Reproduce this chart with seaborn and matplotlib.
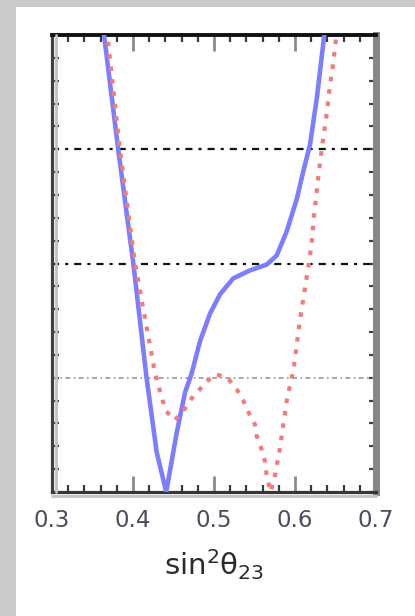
import matplotlib
matplotlib.use("Agg")
import matplotlib.pyplot as plt
from matplotlib.patches import Rectangle
from matplotlib.lines import Line2D
from matplotlib.ticker import MultipleLocator, NullFormatter
from matplotlib.transforms import offset_copy
import seaborn as sns
import pandas as pd

# n-sigma profile versus sin^2(theta_23): normal hierarchy (solid) and inverted (dotted)
nh_s23 = [0.3634, 0.3819, 0.4004, 0.4169, 0.4244, 0.4292, 0.4410, 0.4540, 0.4642,
          0.4725, 0.4827, 0.4950, 0.5074, 0.5238, 0.5444, 0.5650, 0.5774,
          0.5897, 0.6020, 0.6100, 0.6185, 0.6270, 0.6370]
nh_sigma = [4.05, 2.99, 2.00, 0.99, 0.60, 0.35, 0.00, 0.52, 0.87,
            1.04, 1.32, 1.56, 1.73, 1.87, 1.94, 1.99, 2.07,
            2.28, 2.56, 2.80, 3.04, 3.45, 4.05]

ih_s23 = [0.3675, 0.3840, 0.4025, 0.4272, 0.4354, 0.4403, 0.4519, 0.4642,
          0.4725, 0.4807, 0.4910, 0.5033, 0.5177, 0.5280, 0.5362, 0.5424,
          0.5506, 0.5527, 0.5589, 0.5630, 0.5650, 0.5700, 0.5753, 0.5815,
          0.5856, 0.5905, 0.5980, 0.6020, 0.6062, 0.6111, 0.6164, 0.6206,
          0.6235, 0.6288, 0.6330, 0.6391, 0.6432, 0.6473, 0.6520]
ih_sigma = [4.05, 2.99, 2.00, 1.04, 0.83, 0.71, 0.63, 0.73,
            0.82, 0.885, 0.97, 1.03, 0.99, 0.90, 0.80, 0.70,
            0.59, 0.49, 0.37, 0.265, 0.145, 0.00, 0.145, 0.386,
            0.59, 0.83, 1.06, 1.28, 1.51, 1.73, 1.97, 2.18,
            2.42, 2.76, 3.00, 3.31, 3.56, 3.76, 4.05]

sigma_levels = [1, 2, 3]
sigma_colors = ["#9a9a9a", "#111111", "#111111"]
sigma_widths = [1.2, 1.6, 1.6]

x_ticks = [0.3, 0.4, 0.5, 0.6, 0.7]
x_ticklabels = ["0.3", "0.4", "0.5", "0.6", "0.7"]

sns.set_style("ticks")
plt.rcParams["font.family"] = ["DejaVu Sans"]
plt.rcParams["mathtext.fontset"] = "dejavusans"

W, H = 415, 616
fig = plt.figure(figsize=(W / 100, H / 100), dpi=100)
fig.patch.set_facecolor("#cbcbcb")
fig.add_artist(Rectangle((16 / W, 0), 1, 1 - 7 / H, transform=fig.transFigure,
                         facecolor="white", edgecolor="none", zorder=0))

ax = fig.add_axes([52 / W, 124 / H, 324 / W, 457 / H])
ax.set_facecolor("white")

for lvl, col, lw in zip(sigma_levels, sigma_colors, sigma_widths):
    pattern = (0, (3, 2, 1, 2)) if lvl == 1 else (0, (3.2, 2.7, 1.4, 2.7))
    ax.axhline(lvl, color=col, lw=lw, linestyle=pattern, zorder=1)

nh = pd.DataFrame({"s23": nh_s23, "sigma": nh_sigma})
ih = pd.DataFrame({"s23": ih_s23, "sigma": ih_sigma})

sns.lineplot(data=nh, x="s23", y="sigma", ax=ax, sort=False, estimator=None,
             color="#7d7dff", lw=3.3, zorder=3)
sns.lineplot(data=ih, x="s23", y="sigma", ax=ax, sort=False, estimator=None,
             color="#f07c7c", lw=3.0, zorder=4)
ax.lines[-1].set_linestyle((0, (1.1, 1.9)))
ax.lines[-1].set_dash_capstyle("butt")

ax.set_xlim(0.3, 0.7)
ax.set_ylim(0, 4)
ax.set_xticks(x_ticks)
ax.set_xticklabels(x_ticklabels)
ax.xaxis.set_minor_locator(MultipleLocator(0.02))
ax.yaxis.set_major_locator(MultipleLocator(0.2))
ax.yaxis.set_major_formatter(NullFormatter())

ax.tick_params(axis="x", which="major", direction="in", top=True, bottom=True,
               length=11.5, width=2.0, color="#8c8c8c", pad=12,
               labelsize=16.5, labelcolor="#4c4c5c")
ax.tick_params(axis="x", which="minor", direction="in", top=True, bottom=True,
               length=5, width=1.6, color="#3a3a3a")
ax.tick_params(axis="y", which="major", direction="in", left=True, right=True,
               length=5, width=1.6, color="#444444")

ax.set_xlabel(r"sin$^2$θ$_{23}$", fontsize=21, color="#2a2a2a", labelpad=11)
ax.set_ylabel("")

ax.spines["top"].set_color("#111111")
ax.spines["top"].set_linewidth(2.8)
ax.spines["left"].set_color("#404040")
ax.spines["left"].set_linewidth(2.3)
ax.spines["bottom"].set_color("#363636")
ax.spines["bottom"].set_linewidth(2.3)
ax.spines["right"].set_color("#868686")
ax.spines["right"].set_linewidth(5)

# light bevel strips along the lower and left frame edges
ax.add_line(Line2D([0, 1], [0, 0], transform=offset_copy(ax.transAxes, fig, y=-3.5, units="dots"),
                   color="#c6c6c6", lw=2.2, clip_on=False, zorder=5))
ax.add_line(Line2D([0, 0], [0, 1], transform=offset_copy(ax.transAxes, fig, x=3.5, units="dots"),
                   color="#c2c2c2", lw=2.0, clip_on=False, zorder=5))

fig.savefig("out.png", dpi=100, facecolor=fig.get_facecolor())
